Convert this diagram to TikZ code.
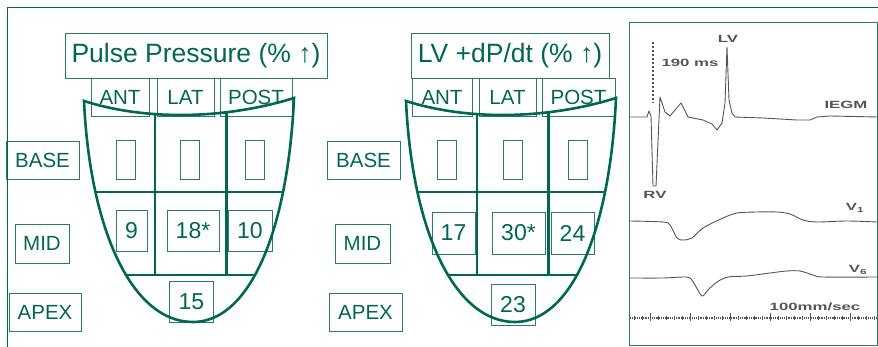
\documentclass[tikz,border=0pt]{standalone}
\usepackage{fontspec}
\setmainfont{Liberation Sans}
\newfontfamily\ecgfont{Liberation Sans Bold}[FakeStretch=1.6]
\usetikzlibrary{positioning}

\definecolor{heartgreen}{RGB}{0,104,78}
\definecolor{boxgreen}{RGB}{40,125,100}
\definecolor{ecggray}{RGB}{85,85,85}

% outline of the ventricle, top rim first
\newcommand{\heartpath}{(84,101) .. controls (150,122) and (230,118) .. (294,98)
  .. controls (288,230) and (250,322) .. (193,322)
  .. controls (132,322) and (90,230) .. (84,101) -- cycle}

\begin{document}
\begin{tikzpicture}[x=1pt,y=-1pt,
  box/.style={draw=boxgreen,line width=0.8pt,inner sep=0pt,text=heartgreen},
  lbl/.style={box,minimum height=38pt,font=\fontsize{20.5}{24}\selectfont},
  val/.style={box,minimum height=41pt,font=\fontsize{23}{27}\selectfont},
  ttl/.style={box,minimum height=45pt,font=\fontsize{26.5}{30}\selectfont},
  slot/.style={box,minimum width=19pt,minimum height=39pt},
  heart/.style={heartgreen,line width=2.6pt},
  wall/.style={heartgreen,line width=2.2pt},
  ecg/.style={ecggray,line width=0.9pt,line join=round},
  ecgtxt/.style={text=ecggray,inner sep=0pt,font=\ecgfont\fontsize{10.5}{12}\selectfont}]
\useasboundingbox (0,0) rectangle (878,347);

% frame
\draw[heartgreen,line width=0.8pt] (7,347) -- (7,7) -- (878,7);
\draw[boxgreen,line width=0.8pt] (629,22) rectangle (877.5,345);

% pulse pressure
\node[ttl,minimum width=262pt] (pptitle) at (196,55.5) {Pulse Pressure (\% ↑)};
\node[lbl,minimum width=58pt] (ppant) at (120,97) {ANT};
\node[lbl,minimum width=57pt] (pplat) at (185.5,97) {LAT};
\node[lbl,minimum width=72pt] (pppost) at (256,97) {POST};
\node[lbl,minimum width=73pt] (ppbase) at (42.5,160) {BASE};
\node[lbl,minimum width=54pt,minimum height=39pt] (ppmid) at (42,243.5) {MID};
\node[lbl,minimum width=72pt] (ppapex) at (45,312) {APEX};
\node[slot] (ppslota) at (125.5,159.5) {};
\node[slot] (ppslotl) at (190,159.5) {};
\node[slot] (ppslotp) at (255,159.5) {};
\node[val,minimum width=31pt] (ppmida) at (131.5,231) {9};
\node[val,minimum width=52pt] (ppmidl) at (193,231) {18*};
\node[val,minimum width=44pt] (ppmidp) at (250,231) {10};
\node[val,minimum width=44pt] (ppapexv) at (191.5,301.5) {15};

% LV +dP/dt
\node[ttl,minimum width=198pt] (dptitle) at (510,55.5) {LV +dP/dt (\% ↑)};
\node[lbl,minimum width=60pt] (dpant) at (442,97) {ANT};
\node[lbl,minimum width=57pt] (dplat) at (507.5,97) {LAT};
\node[lbl,minimum width=73pt] (dppost) at (578.5,97) {POST};
\node[lbl,minimum width=73pt] (dpbase) at (363.5,160) {BASE};
\node[lbl,minimum width=55pt,minimum height=39pt] (dpmid) at (362.5,243.5) {MID};
\node[lbl,minimum width=73pt] (dpapex) at (365.5,312) {APEX};
\node[slot] (dpslota) at (447,159.5) {};
\node[slot] (dpslotl) at (513,159.5) {};
\node[slot] (dpslotp) at (578,159.5) {};
\node[val,minimum width=43pt,minimum height=42pt] (dpmida) at (453.5,233) {17};
\node[val,minimum width=53pt,minimum height=42pt] (dpmidl) at (518.5,233) {30*};
\node[val,minimum width=43pt,minimum height=42pt] (dpmidp) at (572.5,233) {24};
\node[val,minimum width=44pt] (dpapexv) at (513,304.5) {23};

% two ventricles with their segments
\foreach \s in {0,322}{
  \begin{scope}[shift={(\s,0)}]
    \begin{scope}
      \clip \heartpath;
      \draw[wall] (155,80) -- (155,275) (226.5,80) -- (226.5,275)
        (60,192) -- (320,192) (60,275) -- (320,275);
    \end{scope}
    \draw[heart] \heartpath;
  \end{scope}
}

% tracings
\draw[ecg] plot coordinates {(630,117) (647,117) (649,111) (651,116) (653,186) (656,186)
  (660,97) (665,112) (670,116) (675,110) (681,103) (688,117) (703,120) (712,124)
  (717,130) (722,123) (725,103) (727,47) (729,100) (732,113) (735,117) (763,118)
  (797,120) (810,120) (817,117) (830,116) (878,117)};
\draw[ecg,smooth] plot coordinates {(630,221) (663,222) (670,225) (677,238) (683,240)
  (692,238) (703,228) (723,218) (737,213) (757,212) (777,212) (790,214) (803,220)
  (817,222) (847,221) (877,222)};
\draw[ecg,smooth] plot coordinates {(630,278) (663,278) (683,277) (690,278) (695,285)
  (702,296) (708,290) (717,282) (728,277) (747,276) (770,273) (787,271) (800,271)
  (813,275) (823,277) (877,277)};
\draw[ecggray,line width=2pt,dotted] (653,42) -- (653,103);
\draw[ecggray,line width=1.2pt,densely dotted] (630,318) -- (877,318);
\foreach \x in {634,642,...,874}
  \draw[ecggray,line width=0.5pt] (\x,316) -- (\x,320);
\foreach \x in {650,690,...,870}
  \draw[ecggray,line width=0.7pt] (\x,313) -- (\x,321);

\node[ecgtxt] (delay) at (690,63) {190 ms};
\node[ecgtxt] (lvlab) at (728,39) {LV};
\node[ecgtxt] (rvlab) at (655,195) {RV};
\node[ecgtxt] (iegm) at (846,105) {IEGM};
\node[ecgtxt] (vone) at (855,208) {V\textsubscript{1}};
\node[ecgtxt] (vsix) at (858,270) {V\textsubscript{6}};
\node[ecgtxt] (speed) at (815,307) {100mm/sec};
\end{tikzpicture}
\end{document}
